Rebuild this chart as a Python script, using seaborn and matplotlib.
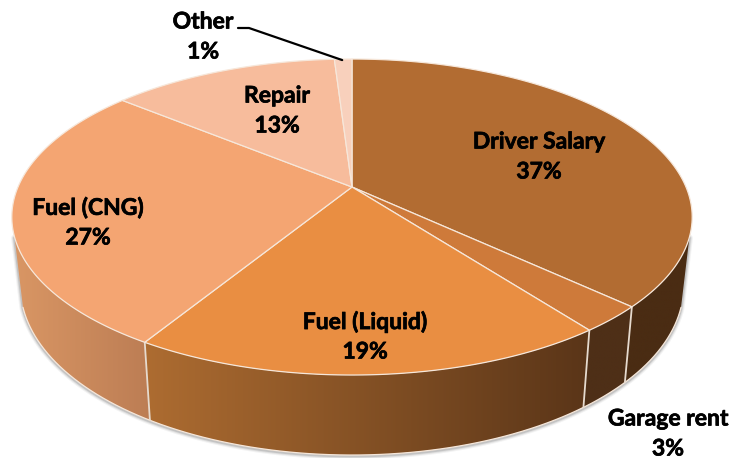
#! /usr/bin/python3

import numpy as np
import seaborn as sns
from matplotlib import pyplot as plt
from matplotlib import patheffects as pe
from matplotlib.colors import to_rgb
from matplotlib.patches import Polygon

# data
categories = ["Driver Salary", "Garage rent", "Fuel (Liquid)", "Fuel (CNG)", "Repair", "Other"]
shares = [37.0, 2.7, 19.0, 27.3, 13.0, 1.0]

# styling
top_colors = ["#B26C32", "#CE7A3A", "#E98E42", "#F4A572", "#F7BC9C", "#F8D0BC"]
wall_right = ["#4A2C13", "#4E2F17", "#5A3518", "#BC7D54", "#BC7D54", "#BC7D54"]
wall_left = ["#4A2C13", "#4E2F17", "#AD6C31", "#D99664", "#D99664", "#D99664"]
label_pos = [(539, 142), (668, 419), (365, 322), (88, 208), (277, 96), (203, 22)]
EDGE = "#F6E7DA"

sns.set_theme(style="white")
plt.rcParams['font.family'] = ['Lato', 'DejaVu Sans']

# perspective of the pie disc, in pixels
CX, CY = 352., 187.
RX, RY, KP = 334., 152.3, 0.19
SHRINK, DEPTH0, DEPTH1 = 0.975, 66., 14.
VISIBLE = (108., 252.)  # part of the rim facing the viewer, degrees clockwise from top


def top_xy(theta):
    t = np.radians(theta)
    w = 1 + KP*np.cos(t)
    return CX + RX*np.sin(t)/w, CY - RY*np.cos(t)/w


def bottom_xy(theta):
    x, y = top_xy(theta)
    return CX + SHRINK*(x-CX), y + DEPTH0 - DEPTH1*np.cos(np.radians(theta))


def draw_wall(ax, a0, a1, c_right, c_left):
    thetas = np.linspace(a0, a1, max(int((a1-a0)*3), 2))
    tx, ty = top_xy(thetas)
    bx, by = bottom_xy(thetas[::-1])
    patch = Polygon(np.c_[np.r_[tx, bx], np.r_[ty, by]], closed=True, facecolor="none",
                    edgecolor="none", transform=ax.transData)
    ax.add_patch(patch)
    x0, x1 = min(tx.min(), bx.min()), max(tx.max(), bx.max())
    y0, y1 = min(ty.min(), by.min()), max(ty.max(), by.max())
    # horizontal gradient, clipped to the wall outline
    pal = np.array(sns.blend_palette([to_rgb(c_left), to_rgb(c_right)], n_colors=128))[None, :, :]
    im = ax.imshow(pal, extent=(x0, x1, y1, y0), aspect="auto", interpolation="bilinear", zorder=3)
    im.set_clip_path(patch)


fig = plt.figure(figsize=(7.33, 4.58), dpi=100)
ax = fig.add_axes([0, 0, 1, 1])

# soft shadow round the lower rim
rim = np.linspace(VISIBLE[0], VISIBLE[1], 200)
bx, by = bottom_xy(rim)
bx = np.r_[top_xy(VISIBLE[0])[0], bx, top_xy(VISIBLE[1])[0]]
by = np.r_[top_xy(VISIBLE[0])[1], by, top_xy(VISIBLE[1])[1]]
for lw, alpha in [(5, 0.07), (3.5, 0.12), (2, 0.2)]:
    ax.plot(bx, by+1, color="#555555", lw=lw, alpha=alpha, zorder=1, solid_capstyle="round")

bounds = np.r_[0, np.cumsum(shares)]*3.6

# rim walls
for i in range(len(shares)):
    a0, a1 = max(bounds[i], VISIBLE[0]), min(bounds[i+1], VISIBLE[1])
    if a1 > a0:
        draw_wall(ax, a0, a1, wall_right[i], wall_left[i])
ax.plot(*bottom_xy(rim), color=EDGE, lw=0.9, zorder=4)
for b in bounds[1:-1]:
    if VISIBLE[0] < b < VISIBLE[1]:
        x0, y0 = top_xy(b)
        x1, y1 = bottom_xy(b)
        ax.plot([x0, x1], [y0, y1], color="#E6DACE", lw=1.3, zorder=4)

# top face
for i in range(len(shares)):
    th = np.linspace(bounds[i], bounds[i+1], 120)
    x, y = top_xy(th)
    pts = np.c_[np.r_[CX, x], np.r_[CY, y]]
    ax.add_patch(Polygon(pts, closed=True, facecolor=top_colors[i], edgecolor=EDGE,
                         lw=0.9, joinstyle="round", zorder=5))

# labels
stroke = [pe.withStroke(linewidth=0.5, foreground="black")]
for name, val, (x, y) in zip(categories, shares, label_pos):
    ax.text(x, y, name, ha="center", va="center", fontsize=16.5, fontweight="bold",
            color="black", zorder=7, path_effects=stroke)
    ax.text(x, y+30, f"{val:.0f}%", ha="center", va="center", fontsize=16.5, fontweight="bold",
            color="black", zorder=7, path_effects=stroke)

# leader line of the smallest slice
ox, oy = top_xy((bounds[-2]+bounds[-1])/2)
ax.plot([238, 249, ox-1], [28, 28, oy+1], color="black", lw=1.6, zorder=6,
        solid_joinstyle="miter")

ax.set_xlim(0, 733)
ax.set_ylim(458, 0)
ax.axis("off")

fig.savefig("out.png", dpi=100)
